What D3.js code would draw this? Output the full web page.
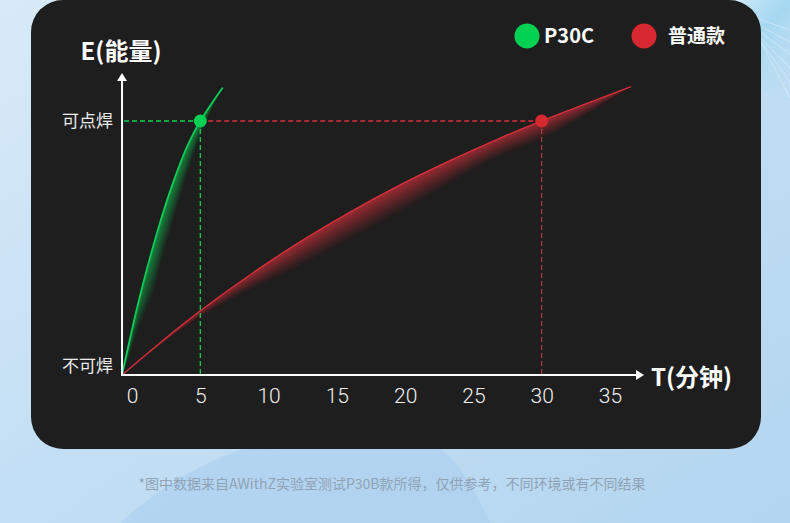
<!DOCTYPE html>
<html>
<head>
<meta charset="utf-8">
<script src="https://cdn.jsdelivr.net/npm/d3@7"></script>
<style>
  html, body { margin: 0; padding: 0; overflow: hidden; }
  body { width: 790px; height: 523px; }
  text { font-family: "Noto Sans CJK SC", "Noto Sans", sans-serif; }
</style>
</head>
<body>
<div id="chart"></div>
<script>
// series names and colours
const seriesNames = ["P30C", "普通款"];
const seriesColors = ["#00d152", "#d8282f"];

// P30C curve (time in minutes, energy 0 = 不可焊, 1 = 可点焊)
const p30cT = [-0.73, -0.28, 0.28, 0.88, 1.54, 2.27, 3.08, 4.03, 5.0, 6.61];
const p30cE = [0, 0.111, 0.244, 0.374, 0.505, 0.638, 0.768, 0.899, 1.0, 1.129];
const p30cGlowE = [0, 0.050, 0.145, 0.220, 0.300, 0.450, 0.600, 0.775, 0.930, 1.129];

// 普通款 curve
const normalT = [-0.73, 4.98, 12.3, 19.6, 26.96, 30.0, 36.5];
const normalE = [0, 0.252, 0.524, 0.748, 0.933, 1.0, 1.134];
const normalGlowE = [0, 0.224, 0.421, 0.630, 0.854, 0.921, 1.134];

// time each one needs to reach 可点焊
const weldTimes = [5, 30];

// axis ticks
const xTicks = [0, 5, 10, 15, 20, 25, 30, 35];
const yLevels = [0, 1];
const yLabels = ["不可焊", "可点焊"];

const W = 790, H = 523;

const svg = d3.select("#chart").append("svg")
    .attr("width", W)
    .attr("height", H);

const defs = svg.append("defs");

//Фон
const bg = defs.append("linearGradient").attr("id", "bg")
    .attr("x1", 0).attr("y1", 0).attr("x2", 1).attr("y2", 1);
bg.append("stop").attr("offset", 0).attr("stop-color", "#d8eaf8");
bg.append("stop").attr("offset", 0.5).attr("stop-color", "#c2def4");
bg.append("stop").attr("offset", 1).attr("stop-color", "#b3d5f0");

const glass = defs.append("linearGradient").attr("id", "glass")
    .attr("x1", 0).attr("y1", 0).attr("x2", 1).attr("y2", 1);
glass.append("stop").attr("offset", 0).attr("stop-color", "#f4fbff").attr("stop-opacity", 0.95);
glass.append("stop").attr("offset", 0.5).attr("stop-color", "#9fd6f0").attr("stop-opacity", 0.8);
glass.append("stop").attr("offset", 1).attr("stop-color", "#b9dcf2").attr("stop-opacity", 0);

svg.append("rect").attr("width", W).attr("height", H).attr("fill", "url(#bg)");

// soft curved shape behind the footer
svg.append("path")
    .attr("d", "M120,523 C200,450 300,420 400,430 C450,440 470,480 490,523 Z")
    .attr("fill", "#a9cdef").attr("opacity", 0.55);

// glassy streaks top right
svg.append("path")
    .attr("d", "M690,0 L790,0 L790,110 C760,90 720,45 690,0 Z")
    .attr("fill", "url(#glass)");
[10, 22, 34, 48, 62, 78].forEach(o => {
    svg.append("line")
        .attr("x1", 700 + o * 0.5).attr("y1", 0)
        .attr("x2", 790).attr("y2", 20 + o)
        .attr("stroke", "#ffffff").attr("stroke-opacity", 0.35).attr("stroke-width", 1);
});

//Карточка
svg.append("rect")
    .attr("x", 31).attr("y", 0)
    .attr("width", 730).attr("height", 449)
    .attr("rx", 32)
    .attr("fill", "#1e1e1e");

//Шкалы
const x = d3.scaleLinear().domain([0, 35]).range([132, 610]);
const y = d3.scaleLinear().domain([0, 1]).range([375, 121]);

const originX = x(-0.73), originY = y(0);
const curve = d3.curveCatmullRom.alpha(0.5);

// glow bands under each curve
const bands = 24;
function drawGlow(ts, es, gs, color, maxOpacity) {
    const pts = ts.map((t, i) => ({ t: t, e: es[i], g: gs[i] }));
    const g = svg.append("g");
    for (let k = 0; k < bands; k++) {
        const a = k / bands, b = (k + 1) / bands;
        const area = d3.area()
            .x(d => x(d.t))
            .y0(d => y(d.e + (d.g - d.e) * a))
            .y1(d => y(d.e + (d.g - d.e) * b))
            .curve(d3.curveMonotoneX);
        g.append("path")
            .datum(pts)
            .attr("d", area)
            .attr("fill", color)
            .attr("opacity", maxOpacity * Math.pow(1 - (k + 0.5) / bands, 1.3));
    }
}

function drawLine(ts, es, color, width) {
    const pts = ts.map((t, i) => ({ t: t, e: es[i] }));
    svg.append("path")
        .datum(pts)
        .attr("fill", "none")
        .attr("stroke", color)
        .attr("stroke-width", width)
        .attr("stroke-linecap", "round")
        .attr("d", d3.line().x(d => x(d.t)).y(d => y(d.e)).curve(curve));
}

drawGlow(normalT, normalE, normalGlowE, "#c8303a", 0.85);
drawGlow(p30cT, p30cE, p30cGlowE, "#14b84e", 0.85);

//Пунктир до точек
svg.append("line")
    .attr("x1", originX + 2).attr("y1", y(1))
    .attr("x2", x(weldTimes[0])).attr("y2", y(1))
    .attr("stroke", seriesColors[0]).attr("stroke-width", 1.3)
    .attr("stroke-dasharray", "5,3");
svg.append("line")
    .attr("x1", x(weldTimes[0])).attr("y1", y(1))
    .attr("x2", x(weldTimes[0])).attr("y2", y(0))
    .attr("stroke", seriesColors[0]).attr("stroke-width", 1.3)
    .attr("stroke-dasharray", "5,3");
svg.append("line")
    .attr("x1", x(weldTimes[0])).attr("y1", y(1))
    .attr("x2", x(weldTimes[1])).attr("y2", y(1))
    .attr("stroke", "#e0303a").attr("stroke-width", 1.3)
    .attr("stroke-dasharray", "5,3");
svg.append("line")
    .attr("x1", x(weldTimes[1])).attr("y1", y(1))
    .attr("x2", x(weldTimes[1])).attr("y2", y(0))
    .attr("stroke", "#c8464d").attr("stroke-width", 1)
    .attr("stroke-dasharray", "5,3");

drawLine(normalT, normalE, "#d8303a", 1.4);
drawLine(p30cT, p30cE, "#0ccc55", 1.8);

//Точки
svg.selectAll(".dot")
    .data(weldTimes)
    .enter()
    .append("circle")
    .attr("class", "dot")
    .attr("cx", d => x(d))
    .attr("cy", y(1))
    .attr("r", 6.5)
    .attr("fill", (d, i) => seriesColors[i]);

//Оси
svg.append("line")
    .attr("x1", originX).attr("y1", originY + 1)
    .attr("x2", originX).attr("y2", 80)
    .attr("stroke", "#fff").attr("stroke-width", 2);
svg.append("path")
    .attr("d", `M${originX - 5},81 L${originX},73 L${originX + 5},81 Z`)
    .attr("fill", "#fff");
svg.append("line")
    .attr("x1", originX - 1).attr("y1", originY)
    .attr("x2", 636).attr("y2", originY)
    .attr("stroke", "#fff").attr("stroke-width", 2);
svg.append("path")
    .attr("d", `M636,${originY - 5} L644,${originY} L636,${originY + 5} Z`)
    .attr("fill", "#fff");

const xAxis = svg.append("g")
    .attr("transform", `translate(0,${originY})`)
    .call(d3.axisBottom(x).tickValues(xTicks).tickSize(0).tickPadding(13));
xAxis.select(".domain").remove();
xAxis.selectAll("text")
    .attr("fill", "#f0f0f0")
    .style("font-family", "Roboto, 'Noto Sans', sans-serif")
    .style("font-weight", 300)
    .style("font-size", "21px");

svg.selectAll(".ylab")
    .data(yLevels)
    .enter()
    .append("text")
    .attr("class", "ylab")
    .attr("x", 113)
    .attr("y", d => y(d) - (d === 0 ? 9 : 0))
    .attr("dy", "0.36em")
    .attr("text-anchor", "end")
    .attr("fill", "#ececec")
    .style("font-size", "17px")
    .text((d, i) => yLabels[i]);

//Подписи осей
svg.append("text")
    .attr("x", 121).attr("y", 51)
    .attr("dy", "0.36em")
    .attr("text-anchor", "middle")
    .attr("fill", "#fff")
    .style("font-size", "24px").style("font-weight", 700)
    .text("E(能量)");
svg.append("text")
    .attr("x", 651).attr("y", 377)
    .attr("dy", "0.36em")
    .attr("fill", "#fff")
    .style("font-size", "24px").style("font-weight", 700)
    .text("T(分钟)");

//Легенда
const legendX = [527, 644];
const legend = svg.selectAll(".legend")
    .data(seriesNames)
    .enter()
    .append("g")
    .attr("class", "legend")
    .attr("transform", (d, i) => `translate(${legendX[i]},36)`);
legend.append("circle")
    .attr("r", 12.5)
    .attr("fill", (d, i) => seriesColors[i]);
legend.append("text")
    .attr("x", (d, i) => i === 0 ? 17 : 24)
    .attr("dy", "0.36em")
    .attr("fill", "#fff")
    .style("font-size", (d, i) => i === 0 ? "20px" : "19px")
    .style("font-weight", 700)
    .text(d => d);

//Сноска
svg.append("text")
    .attr("x", 392).attr("y", 484)
    .attr("dy", "0.36em")
    .attr("text-anchor", "middle")
    .attr("fill", "#8fa3b5")
    .style("font-size", "14px")
    .text("*图中数据来自AWithZ实验室测试P30B款所得，仅供参考，不同环境或有不同结果");
</script>
</body>
</html>
